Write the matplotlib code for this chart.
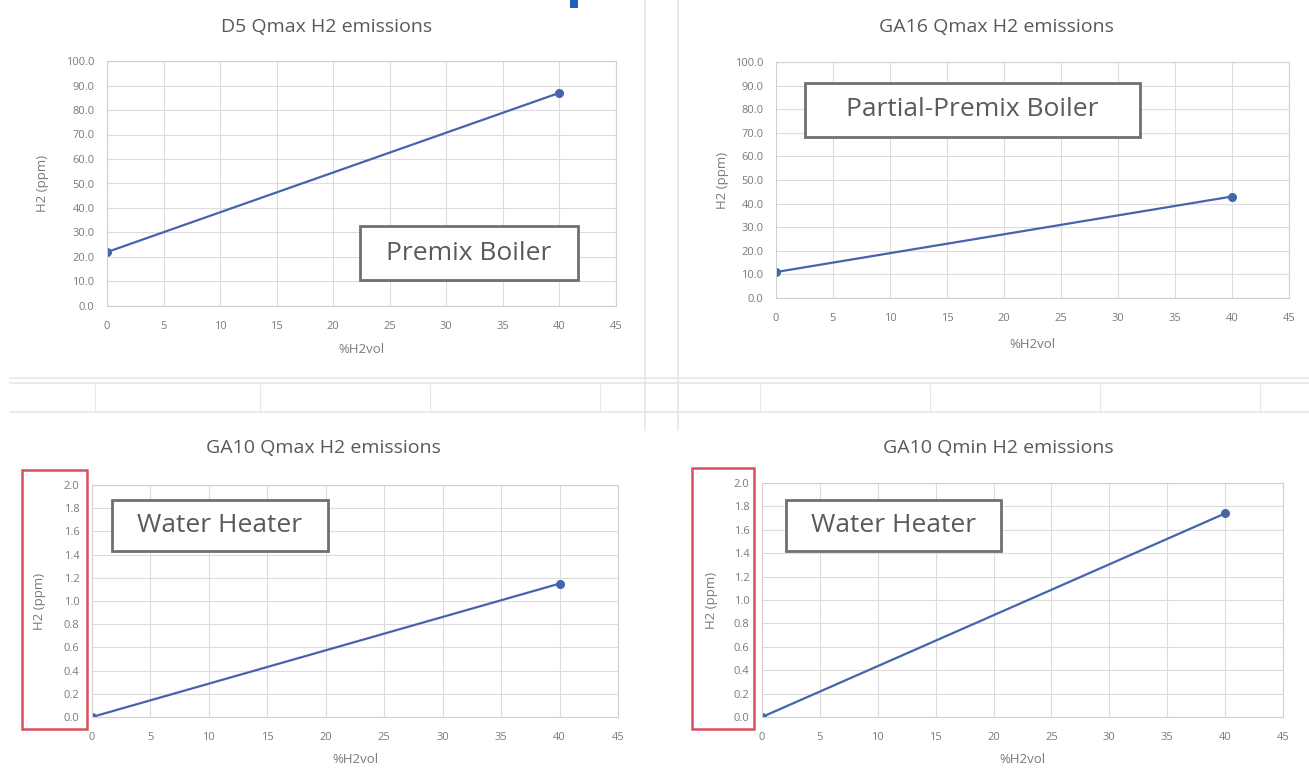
import matplotlib.pyplot as plt
from matplotlib.patches import Rectangle
import numpy as np

plt.rcParams["font.family"] = ["Open Sans", "DejaVu Sans"]

W, H = 1309, 771

# data
h2_vol = [0, 40]
d5_qmax = [22, 87]
ga16_qmax = [11, 43]
ga10_qmax = [0, 1.15]
ga10_qmin = [0, 1.74]

titles = ["D5 Qmax H2 emissions", "GA16 Qmax H2 emissions",
          "GA10 Qmax H2 emissions", "GA10 Qmin H2 emissions"]
series = [d5_qmax, ga16_qmax, ga10_qmax, ga10_qmin]
notes = ["Premix Boiler", "Partial-Premix Boiler", "Water Heater", "Water Heater"]

# plot areas in pixels: left, top, right, bottom
areas = [(107, 61, 616, 306), (776, 62, 1289, 298),
         (92, 485, 618, 717), (762, 483, 1283, 717)]
title_pos = [(327, 27), (996, 27), (323, 448), (998, 448)]
ylabel_x = [49, 729, 46, 718]      # left edge of the rotated label
xlabel_y = [343, 338, 753, 753]    # top edge of the label
note_boxes = [(360, 226, 578, 280), (805, 83, 1140, 137),
              (112, 500, 328, 551), (786, 500, 1001, 551)]
red_boxes = [None, None, (22, 470, 87, 729), (692, 468, 754, 729)]
ylims = [(0, 100, 10), (0, 100, 10), (0, 2, 0.2), (0, 2, 0.2)]


def fx(x):
    return x / W


def fy(y):
    return 1 - y / H


fig = plt.figure(figsize=(W / 100, H / 100), dpi=100)
fig.patch.set_facecolor("white")

# spreadsheet grid showing between the charts
grid_c = "#e6e6e6"
for x in [645, 678]:
    fig.add_artist(plt.Line2D([fx(x), fx(x)], [fy(0), fy(430)], color=grid_c, lw=1.2))
for y in [383, 378, 412]:
    fig.add_artist(plt.Line2D([fx(10), fx(1309)], [fy(y), fy(y)], color=grid_c, lw=1.2))
for x in [95, 260, 430, 600, 760, 930, 1100, 1260]:
    fig.add_artist(plt.Line2D([fx(x), fx(x)], [fy(385), fy(412)], color=grid_c, lw=0.8))
fig.add_artist(Rectangle((fx(570), fy(8)), 8 / W, 8 / H, transform=fig.transFigure,
                         color="#1f5fbf", lw=0))

for i in range(4):
    l, t, r, b = areas[i]
    ax = fig.add_axes([fx(l), fy(b), (r - l) / W, (b - t) / H])
    lo, hi, step = ylims[i]
    ax.plot(h2_vol, series[i], color="#4465ab", lw=1.6, marker="o", ms=5.5)
    ax.set_xlim(0, 45)
    ax.set_ylim(lo, hi)
    ax.set_xticks(np.arange(0, 46, 5))
    yt = np.arange(lo, hi + step / 2, step)
    ax.set_yticks(yt)
    ax.set_yticklabels(["{:.1f}".format(v) for v in yt])
    ax.grid(True, color="#dcdcdc", lw=0.8)
    ax.set_axisbelow(True)
    for s in ax.spines.values():
        s.set_color("#d0d0d0")
    ax.tick_params(length=0, labelsize=8, colors="#7a7a7a", pad=9)
    ax.tick_params(axis="x", pad=11)
    ax.set_xlabel("%H2vol", fontsize=9.5, color="#7a7a7a")
    ax.set_ylabel("H2 (ppm)", fontsize=9.5, color="#7a7a7a")
    ax.xaxis.set_label_coords(0.5, -(xlabel_y[i] - b) / (b - t))
    ax.yaxis.set_label_coords(-(l - ylabel_x[i]) / (r - l), 0.5)
    fig.text(fx(title_pos[i][0]), fy(title_pos[i][1]), titles[i], ha="center",
             va="center", fontsize=14, color="#595959")

    nl, nt, nr, nb = note_boxes[i]
    fig.add_artist(Rectangle((fx(nl), fy(nb)), (nr - nl) / W, (nb - nt) / H,
                             transform=fig.transFigure, facecolor="white",
                             edgecolor="#707070", lw=2, zorder=5))
    fig.text(fx((nl + nr) / 2), fy((nt + nb) / 2), notes[i], ha="center",
             va="center", fontsize=19, color="#5a5a5a", zorder=6)

    if red_boxes[i]:
        rl, rt, rr, rb = red_boxes[i]
        fig.add_artist(Rectangle((fx(rl), fy(rb)), (rr - rl) / W, (rb - rt) / H,
                                 transform=fig.transFigure, facecolor="none",
                                 edgecolor="#d9505f", lw=1.8, zorder=5))

fig.savefig("out.png", dpi=100)
